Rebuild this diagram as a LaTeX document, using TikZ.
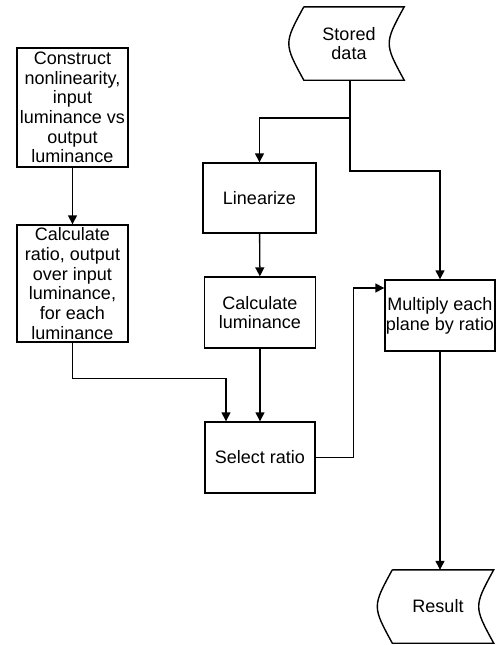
\documentclass[tikz,border=0pt]{standalone}
\usepackage{fontspec}
\setmainfont{Liberation Sans}
\usetikzlibrary{arrows.meta}

% stored data outline round a node
\newcommand{\storedshape}[1]{%
  \draw[line width=1.4pt] ([xshift=10pt]#1.north west) -- (#1.north east)
    .. controls ([xshift=-20pt]#1.east) .. (#1.south east)
    -- ([xshift=10pt]#1.south west)
    .. controls ([xshift=-10pt]#1.west) .. ([xshift=10pt]#1.north west);}

\tikzset{
  box/.style={draw, line width=1.4pt, inner sep=0pt, align=center, minimum width=111pt, minimum height=71pt},
  store/.style={inner sep=0pt, align=center, minimum width=110pt, minimum height=73pt},
  flow/.style={line width=1.4pt, -{Triangle[length=9pt,width=9pt]}},
  line/.style={line width=1.4pt},
}

\begin{document}
\begin{tikzpicture}[x=1pt,y=-1pt,font=\fontsize{18}{19.7}\selectfont]
\useasboundingbox (0,0) rectangle (498,645);

\node[store] (stored) at (349,43.5) {Stored\\data};
\storedshape{stored}

\node[box, minimum height=119pt] (construct) at (72.5,107.5) {Construct\\nonlinearity,\\input\\luminance vs\\output\\luminance};
\node[box, minimum height=117pt] (ratio) at (72.5,283.5) {Calculate\\ratio, output\\over input\\luminance,\\for each\\luminance};

\node[box, minimum width=113pt, minimum height=70pt] (linearize) at (259.5,198) {Linearize};
\node[box] (calclum) at (260,312.5) {Calculate\\luminance};
\node[box, minimum width=110pt] (select) at (260,457.5) {Select ratio};
\node[box, minimum width=110pt] (multiply) at (440,315.5) {Multiply each\\plane by ratio};

\node[store, minimum width=111pt] (result) at (438,606.5) {Result};
\storedshape{result}

\coordinate (split) at (350,118);
\coordinate (turn) at (350,171);

\draw[line] (stored.south -| split) -- (split);
\draw[flow] (split) -| (linearize.north);
\draw[flow] (split) -- (turn) -| (multiply.north);
\draw[flow] (linearize) -- (calclum);
\draw[flow] (calclum) -- (select);
\draw[flow] (construct) -- (ratio);
\draw[flow] (ratio.south) -- ++(0,36) -| ([xshift=-34pt]select.north);
\draw[flow] (select.east) -- ++(38,0) |- ([yshift=27.5pt]multiply.west);
\draw[flow] (multiply.south) -- (multiply.south |- result.north);

\end{tikzpicture}
\end{document}
